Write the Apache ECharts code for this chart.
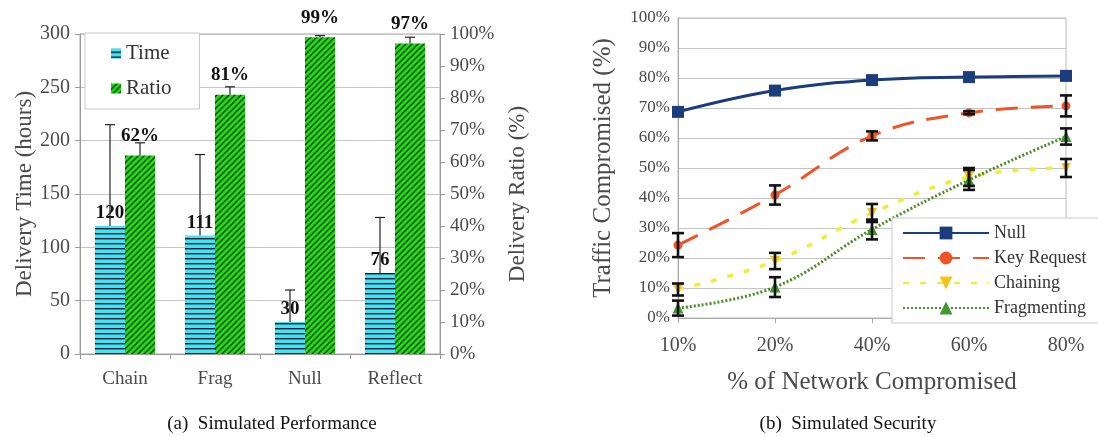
<!DOCTYPE html>
<html>
<head>
<meta charset="utf-8">
<script src="https://cdn.jsdelivr.net/npm/echarts@6/dist/echarts.min.js"></script>
<style>
  html, body { margin: 0; padding: 0; background: #fff; }
  #chart { width: 1098px; height: 437px; }
</style>
</head>
<body>
<div id="chart"></div>
<script>
// (a) Simulated Performance: delivery time and ratio per routing scheme
const categories = ['Chain', 'Frag', 'Null', 'Reflect'];
const timeHours = [120, 111, 30, 76];
const timeErrPlus = [95, 76, 30, 52];
const ratioPct = [62, 81, 99, 97];
const ratioErrPlus = [4, 2.5, 0.5, 2];

// (b) Simulated Security: traffic compromised vs. share of network compromised
const networkShare = ['10%', '20%', '40%', '60%', '80%'];
const nullVals = [68.7, 75.8, 79.3, 80.3, 80.7];
const keyRequestVals = [24.3, 41, 60.7, 68.4, 70.7];
const keyRequestErr = [4, 3.2, 1.5, 0.5, 3.5];
const chainingVals = [9.5, 19, 35, 47, 50];
const chainingErr = [2, 2.7, 3, 3, 3];
const fragmentingVals = [3.3, 10.3, 29.5, 46, 60.5];
const fragmentingErr = [2.5, 3.3, 3.3, 3.3, 2.7];

const SERIF = "'Liberation Serif', 'DejaVu Serif', 'Times New Roman', serif";
const AXIS_TEXT = '#4a4a4a';

// Striped fills for the bars
function stripes(bg, fg, kind) {
  const c = document.createElement('canvas');
  const ctx = c.getContext('2d');
  if (kind === 'h') {
    c.width = 6; c.height = 5;
    ctx.fillStyle = bg; ctx.fillRect(0, 0, 6, 5);
    ctx.fillStyle = fg; ctx.fillRect(0, 3, 6, 1.4);
  } else {
    const s = 6;
    c.width = s; c.height = s;
    ctx.fillStyle = bg; ctx.fillRect(0, 0, s, s);
    ctx.strokeStyle = fg; ctx.lineWidth = 1.3;
    ctx.beginPath();
    ctx.moveTo(-1, s + 1); ctx.lineTo(s + 1, -1);
    ctx.moveTo(-1, 1); ctx.lineTo(1, -1);
    ctx.moveTo(s - 1, s + 1); ctx.lineTo(s + 1, s - 1);
    ctx.stroke();
  }
  return { image: c, repeat: 'repeat' };
}
const timeFill = stripes('#3ee6f4', '#0d1a33', 'h');
const ratioFill = stripes('#1ede10', '#0b330b', 'd');

// Plus-only whiskers for the grouped bars; side = -1 (left bar) / +1 (right bar)
function barWhiskers(vals, errs, yAxisIndex, side) {
  return {
    type: 'custom', xAxisIndex: 0, yAxisIndex: yAxisIndex, z: 6, silent: true,
    encode: { x: 0, y: [1, 2] },
    data: vals.map((v, i) => [i, v, v + errs[i]]),
    renderItem: function (params, api) {
      const i = api.value(0);
      const lo = api.coord([i, api.value(1)]);
      const hi = api.coord([i, api.value(2)]);
      const band = api.size([1, 0])[0];
      const x = lo[0] + side * band / 6;
      const st = { stroke: '#222', lineWidth: 1.2 };
      return { type: 'group', children: [
        { type: 'line', shape: { x1: x, y1: lo[1], x2: x, y2: hi[1] }, style: st },
        { type: 'line', shape: { x1: x - 5, y1: hi[1], x2: x + 5, y2: hi[1] }, style: st }
      ] };
    }
  };
}

// Symmetric error bars for the line chart
function lineWhiskers(vals, errs) {
  return {
    type: 'custom', xAxisIndex: 1, yAxisIndex: 2, z: 6, silent: true,
    encode: { x: 0, y: [1, 2] },
    data: vals.map((v, i) => [i, v - errs[i], v + errs[i]]),
    renderItem: function (params, api) {
      const i = api.value(0);
      const lo = api.coord([i, api.value(1)]);
      const hi = api.coord([i, api.value(2)]);
      const x = lo[0];
      const st = { stroke: '#111', lineWidth: 2.6 };
      return { type: 'group', children: [
        { type: 'line', shape: { x1: x, y1: lo[1], x2: x, y2: hi[1] }, style: st },
        { type: 'line', shape: { x1: x - 6, y1: hi[1], x2: x + 6, y2: hi[1] }, style: st },
        { type: 'line', shape: { x1: x - 6, y1: lo[1], x2: x + 6, y2: lo[1] }, style: st }
      ] };
    }
  };
}

const chart = echarts.init(document.getElementById('chart'), null, { renderer: 'canvas' });

const option = {
  backgroundColor: '#fff',
  animation: false,
  textStyle: { fontFamily: SERIF },
  grid: [
    { left: 80, top: 34, width: 360, height: 320, show: true, borderColor: '#aaa', borderWidth: 1, backgroundColor: 'transparent' },
    { left: 678, top: 18, width: 388, height: 300, show: true, borderColor: '#bbb', borderWidth: 1, backgroundColor: 'transparent' }
  ],
  legend: [
    {
      data: ['Time', 'Ratio'],
      orient: 'vertical', left: 85, top: 33, width: 113,
      padding: [10, 28, 10, 26], itemGap: 14,
      itemWidth: 10, itemHeight: 10, icon: 'rect',
      backgroundColor: '#fff', borderColor: '#c8c8c8', borderWidth: 1,
      textStyle: { fontFamily: SERIF, fontSize: 21, color: '#333' }
    },
    {
      data: ['Null', 'Key Request', 'Chaining', 'Fragmenting'],
      orient: 'vertical', left: 892, top: 218,
      padding: [6, 20, 6, 10], itemGap: 7,
      itemWidth: 86, itemHeight: 16,
      backgroundColor: '#fff', borderColor: '#c8c8c8', borderWidth: 1,
      textStyle: { fontFamily: SERIF, fontSize: 18, color: '#333' }
    }
  ],
  xAxis: [
    {
      type: 'category', gridIndex: 0, data: categories,
      axisLine: { lineStyle: { color: '#999' } },
      axisTick: { show: true, length: 5, lineStyle: { color: '#999' } },
      axisLabel: { fontFamily: SERIF, fontSize: 19, color: AXIS_TEXT, margin: 16 }
    },
    {
      type: 'category', gridIndex: 1, data: networkShare, boundaryGap: false,
      axisLine: { lineStyle: { color: '#aaa' } },
      axisTick: { show: true, length: 5, lineStyle: { color: '#aaa' } },
      axisLabel: { fontFamily: SERIF, fontSize: 20, color: AXIS_TEXT, margin: 18 },
      name: '% of Network Compromised', nameLocation: 'middle', nameGap: 52,
      nameTextStyle: { fontFamily: SERIF, fontSize: 25, color: AXIS_TEXT }
    }
  ],
  yAxis: [
    {
      type: 'value', gridIndex: 0, min: 0, max: 300, interval: 50, position: 'left',
      axisLine: { show: true, lineStyle: { color: '#999' } },
      axisTick: { show: true, length: 5, lineStyle: { color: '#999' } },
      splitLine: { show: true, lineStyle: { color: '#c4c4c4' } },
      axisLabel: { fontFamily: SERIF, fontSize: 20, color: AXIS_TEXT, margin: 10 },
      name: 'Delivery Time (hours)', nameLocation: 'middle', nameGap: 42, nameRotate: 90,
      nameTextStyle: { fontFamily: SERIF, fontSize: 23, color: AXIS_TEXT }
    },
    {
      type: 'value', gridIndex: 0, min: 0, max: 100, interval: 10, position: 'right',
      axisLine: { show: true, lineStyle: { color: '#999' } },
      axisTick: { show: true, length: 5, lineStyle: { color: '#999' } },
      splitLine: { show: false },
      axisLabel: { fontFamily: SERIF, fontSize: 19, color: AXIS_TEXT, margin: 10, formatter: '{value}%' },
      name: 'Delivery Ratio (%)', nameLocation: 'middle', nameGap: 66, nameRotate: 90,
      nameTextStyle: { fontFamily: SERIF, fontSize: 23, color: AXIS_TEXT }
    },
    {
      type: 'value', gridIndex: 1, min: 0, max: 100, interval: 10,
      axisLine: { show: true, lineStyle: { color: '#aaa' } },
      axisTick: { show: false },
      splitLine: { show: true, lineStyle: { color: '#c4c4c4' } },
      axisLabel: { fontFamily: SERIF, fontSize: 17, color: AXIS_TEXT, margin: 8, formatter: '{value}%' },
      name: 'Traffic Compromised (%)', nameLocation: 'middle', nameGap: 62, nameRotate: 90,
      nameTextStyle: { fontFamily: SERIF, fontSize: 25, color: AXIS_TEXT }
    }
  ],
  series: [
    {
      name: 'Time', type: 'bar', xAxisIndex: 0, yAxisIndex: 0,
      data: timeHours, barWidth: 30, barGap: '0%',
      itemStyle: { color: timeFill },
      label: { show: true, position: 'top', distance: 3, fontFamily: SERIF, fontSize: 19, fontWeight: 'bold', color: '#111' }
    },
    {
      name: 'Ratio', type: 'bar', xAxisIndex: 0, yAxisIndex: 1,
      data: ratioPct, barWidth: 30, barGap: '0%',
      itemStyle: { color: ratioFill },
      label: { show: true, position: 'top', distance: 10, fontFamily: SERIF, fontSize: 19, fontWeight: 'bold', color: '#111', formatter: '{c}%' }
    },
    barWhiskers(timeHours, timeErrPlus, 0, -1),
    barWhiskers(ratioPct, ratioErrPlus, 1, 1),
    {
      name: 'Null', type: 'line', xAxisIndex: 1, yAxisIndex: 2, data: nullVals,
      smooth: 0.4, symbol: 'rect', symbolSize: 12,
      lineStyle: { color: '#1b3d7c', width: 3 },
      itemStyle: { color: '#1b3d7c' }
    },
    {
      name: 'Key Request', type: 'line', xAxisIndex: 1, yAxisIndex: 2, data: keyRequestVals,
      smooth: 0.4, symbol: 'circle', symbolSize: 9,
      lineStyle: { color: '#f0552a', width: 3, type: [22, 13] },
      itemStyle: { color: '#f0552a' }
    },
    {
      name: 'Chaining', type: 'line', xAxisIndex: 1, yAxisIndex: 2, data: chainingVals,
      smooth: 0.4, symbol: 'triangle', symbolRotate: 180, symbolSize: 10,
      lineStyle: { color: '#eeee3a', width: 3.5, type: [6, 11] },
      itemStyle: { color: '#f5c41c' }
    },
    {
      name: 'Fragmenting', type: 'line', xAxisIndex: 1, yAxisIndex: 2, data: fragmentingVals,
      smooth: 0.4, symbol: 'triangle', symbolSize: 11,
      lineStyle: { color: '#4d8a2a', width: 3, type: [2, 2] },
      itemStyle: { color: '#3d9a2c' }
    },
    lineWhiskers(keyRequestVals, keyRequestErr),
    lineWhiskers(chainingVals, chainingErr),
    lineWhiskers(fragmentingVals, fragmentingErr)
  ],
  graphic: [
    { type: 'text', x: 272, y: 424, style: { text: '(a)  Simulated Performance', font: '19px ' + SERIF, fill: '#111', textAlign: 'center', textVerticalAlign: 'middle' } },
    { type: 'text', x: 848, y: 424, style: { text: '(b)  Simulated Security', font: '19px ' + SERIF, fill: '#111', textAlign: 'center', textVerticalAlign: 'middle' } }
  ]
};

chart.setOption(option);
</script>
</body>
</html>
